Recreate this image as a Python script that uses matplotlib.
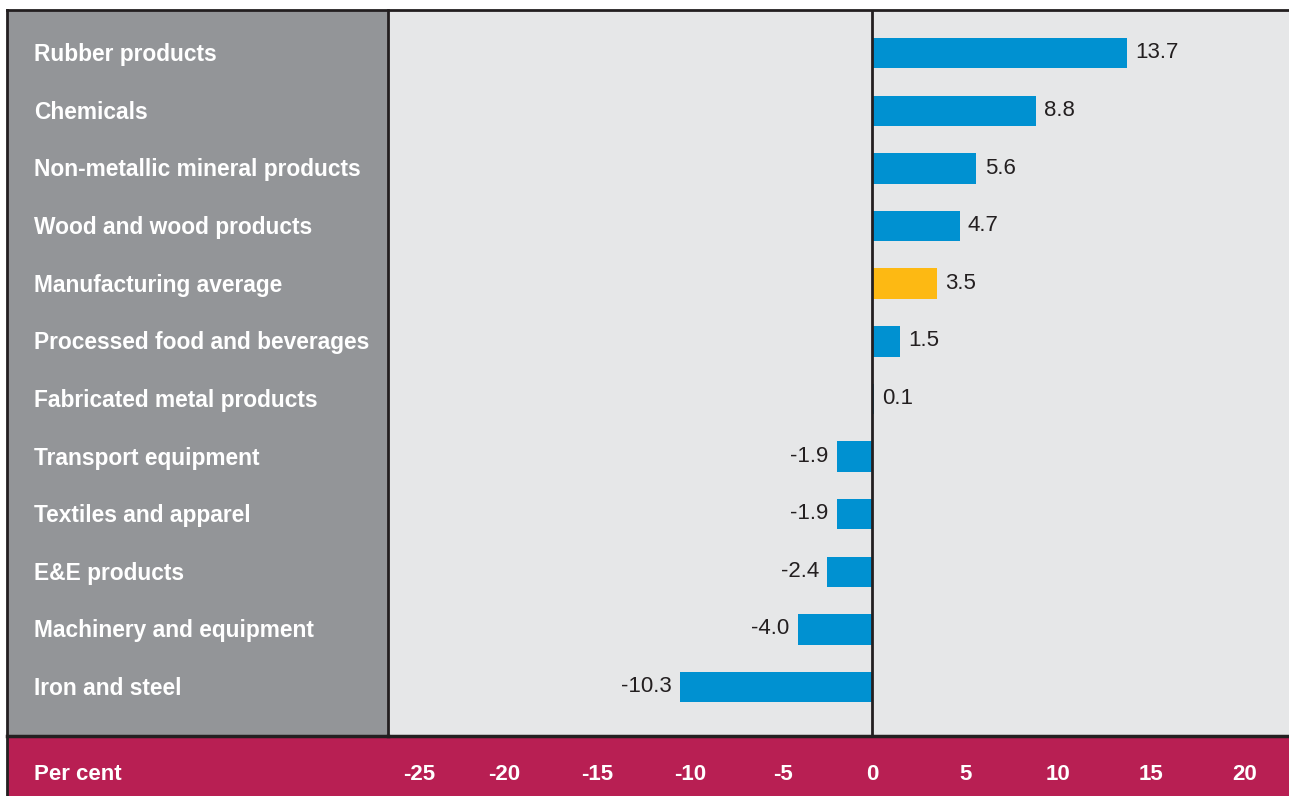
import matplotlib
matplotlib.use('Agg')
import matplotlib.pyplot as plt
from matplotlib.patches import Rectangle
from matplotlib.lines import Line2D
from matplotlib.transforms import blended_transform_factory, ScaledTranslation

plt.rcParams['font.family'] = ['Liberation Sans', 'DejaVu Sans']

industries = [
	"Rubber products",
	"Chemicals",
	"Non-metallic mineral products",
	"Wood and wood products",
	"Manufacturing average",
	"Processed food and beverages",
	"Fabricated metal products",
	"Transport equipment",
	"Textiles and apparel",
	"E&E products",
	"Machinery and equipment",
	"Iron and steel",
]
growth = [13.7, 8.8, 5.6, 4.7, 3.5, 1.5, 0.1, -1.9, -1.9, -2.4, -4.0, -10.3]
highlight = "Manufacturing average"
x_ticks = [-25, -20, -15, -10, -5, 0, 5, 10, 15, 20]

BLUE = "#0091d1"
YELLOW = "#fdb913"
PANEL = "#939598"
BG = "#e6e7e8"
CRIMSON = "#b81f53"
DARK = "#231f20"

W, H = 1289, 796
fig = plt.figure(figsize=(W / 100, H / 100), dpi=100)

def fx(px):
	return px / W

def fy(px):
	return 1 - px / H

# grey label panel and crimson axis band, kept behind everything else
fig.patches.append(Rectangle((fx(7), fy(736)), fx(388) - fx(7), fy(10) - fy(736),
	transform=fig.transFigure, facecolor=PANEL, edgecolor="none", zorder=-5))
fig.patches.append(Rectangle((fx(7), 0), 1 - fx(7), fy(737),
	transform=fig.transFigure, facecolor=CRIMSON, edgecolor="none", zorder=-5))

ax = fig.add_axes([fx(388), fy(736), 1 - fx(388), fy(10) - fy(736)])
ax.set_facecolor(BG)

ypos = list(range(len(industries)))
colors = [YELLOW if name == highlight else BLUE for name in industries]
ax.barh(ypos, growth, height=0.53, color=colors, zorder=2)
ax.axvline(0, color=DARK, lw=2, zorder=3)

for y, v in zip(ypos, growth):
	if v >= 0:
		ax.annotate("%.1f" % v, (v, y), xytext=(6, 0.3), textcoords="offset points",
			ha="left", va="center", fontsize=16, color=DARK)
	else:
		ax.annotate("%.1f" % v, (v, y), xytext=(-6, 0.3), textcoords="offset points",
			ha="right", va="center", fontsize=16, color=DARK)

ax.set_xlim(-26, 22.4)
ax.set_ylim(len(industries) - 1 + 0.85, -0.75)

ax.set_yticks([])
ax.set_xticks(x_ticks)
ax.set_xticklabels([str(t) for t in x_ticks], fontsize=16, fontweight="bold", color="white")
ax.tick_params(axis="x", length=0, pad=20)

# centre the digits rather than the minus sign; keep -25 clear of the panel edge
for t, lab in zip(x_ticks, ax.get_xticklabels()):
	if t < 0:
		dx = 13 if t == -25 else 4
		lab.set_transform(lab.get_transform() + ScaledTranslation(dx / 100, 0, fig.dpi_scale_trans))

for side in ["top", "right"]:
	ax.spines[side].set_visible(False)
ax.spines["left"].set_color(DARK)
ax.spines["left"].set_linewidth(2)
ax.spines["bottom"].set_color(DARK)
ax.spines["bottom"].set_linewidth(2.5)

# category names sit in the grey panel, left aligned
trans = blended_transform_factory(fig.transFigure, ax.transData)
label_shift = ScaledTranslation(0, -1.5 / 100, fig.dpi_scale_trans)
for y, name in zip(ypos, industries):
	ax.text(fx(34), y, name, transform=trans + label_shift, ha="left", va="center",
		fontsize=16.4, fontweight="bold", color="white", clip_on=False)

fig.text(fx(34), fy(775), "Per cent", ha="left", va="center",
	fontsize=16, fontweight="bold", color="white")

# outer frame lines
fig.lines.append(Line2D([fx(7), 1], [fy(10), fy(10)], transform=fig.transFigure, color=DARK, lw=2))
fig.lines.append(Line2D([fx(7), fx(7)], [fy(10), 0], transform=fig.transFigure, color=DARK, lw=2))
fig.lines.append(Line2D([fx(7), fx(388)], [fy(736), fy(736)], transform=fig.transFigure, color=DARK, lw=2.5))

fig.savefig("out.png", dpi=100)
